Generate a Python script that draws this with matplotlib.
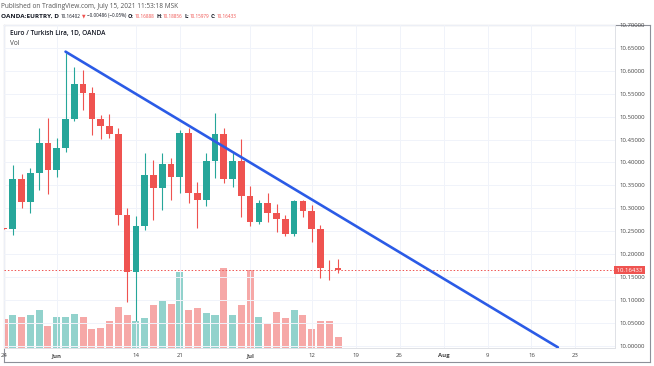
import matplotlib
matplotlib.use("Agg")
import matplotlib.pyplot as plt
import matplotlib.transforms as mtransforms
import pandas as pd

plt.rcParams["font.family"] = ["Open Sans", "DejaVu Sans"]

# daily candles, EUR/TRY (OANDA), 24 May - 15 Jul 2021
start_date = "2021-05-24"
opens = [10.2560, 10.2548, 10.3650, 10.3140, 10.3764, 10.4432, 10.3836, 10.4310, 10.4950, 10.5707,
         10.5510, 10.4943, 10.4797, 10.4616, 10.2854, 10.1616, 10.2614, 10.3727, 10.3437, 10.3967,
         10.3690, 10.4638, 10.3340, 10.3180, 10.4033, 10.4616, 10.3640, 10.4033, 10.3275, 10.2694,
         10.3110, 10.2890, 10.2766, 10.2432, 10.3166, 10.2940, 10.2548, 10.1700, 10.16888]
highs = [10.2565, 10.3935, 10.3750, 10.3873, 10.4747, 10.4965, 10.4528, 10.6400, 10.6092, 10.6020,
         10.5655, 10.5037, 10.5060, 10.4747, 10.3000, 10.2830, 10.4200, 10.4055, 10.4200, 10.4090,
         10.4710, 10.4747, 10.3580, 10.4200, 10.5074, 10.4747, 10.4200, 10.4513, 10.3487, 10.3180,
         10.3330, 10.3087, 10.2847, 10.3180, 10.3180, 10.3070, 10.2636, 10.1870, 10.18856]
lows = [10.2545, 10.2410, 10.3010, 10.2904, 10.3400, 10.3312, 10.3690, 10.4236, 10.4900, 10.5146,
        10.4600, 10.4507, 10.4528, 10.2635, 10.0960, 10.0550, 10.2526, 10.2745, 10.2963, 10.3180,
        10.3330, 10.3110, 10.2560, 10.3050, 10.3655, 10.3550, 10.3470, 10.2800, 10.2620, 10.2657,
        10.2694, 10.2490, 10.2395, 10.2400, 10.2800, 10.2270, 10.1470, 10.1430, 10.15979]
closes = [10.2548, 10.3650, 10.3140, 10.3764, 10.4432, 10.3836, 10.4310, 10.4950, 10.5707, 10.5510,
          10.4943, 10.4797, 10.4616, 10.2854, 10.1616, 10.2614, 10.3727, 10.3437, 10.3967, 10.3690,
          10.4638, 10.3340, 10.3180, 10.4033, 10.4616, 10.3640, 10.4033, 10.3275, 10.2694, 10.3110,
          10.2890, 10.2766, 10.2432, 10.3166, 10.2940, 10.2548, 10.1690, 10.16919, 10.16433]
volumes = [87, 100, 93, 98, 113, 65, 94, 93, 102, 94,
           58, 61, 82, 122, 99, 82, 90, 130, 141, 132,
           227, 115, 120, 105, 99, 240, 99, 130, 234, 94,
           73, 108, 91, 113, 100, 58, 82, 80, 34]

# trend line: from the 2 Jun high down to late August
trend_dates = ["2021-06-02", "2021-08-19"]
trend_prices = [10.642, 9.9965]

price_ticks = [10.00, 10.05, 10.10, 10.15, 10.20, 10.25, 10.30, 10.35,
               10.40, 10.45, 10.50, 10.55, 10.60, 10.65, 10.70]
date_ticks = ["2021-05-24", "2021-06-01", "2021-06-14", "2021-06-21", "2021-07-01", "2021-07-12",
              "2021-07-19", "2021-07-26", "2021-08-02", "2021-08-09", "2021-08-16", "2021-08-23"]
date_labels = ["24", "Jun", "14", "21", "Jul", "12", "19", "26", "Aug", "9", "16", "23"]

UP = "#26a69a"
DOWN = "#ef5350"

# bar index for each trading day (weekdays), as TradingView spaces them
days = pd.bdate_range(start_date, "2021-09-30")
day_index = {d.strftime("%Y-%m-%d"): i for i, d in enumerate(days)}


def day_pos(date_str):
    key = pd.Timestamp(date_str).strftime("%Y-%m-%d")
    if key in day_index:
        return day_index[key]
    # weekend date: put it just after the last trading day
    prev = days[days <= pd.Timestamp(date_str)][-1]
    return day_index[prev.strftime("%Y-%m-%d")] + 0.75


W, H = 654, 366


def px_box(x0, y0, x1, y1):
    return [x0 / W, 1 - y1 / H, (x1 - x0) / W, (y1 - y0) / H]


fig = plt.figure(figsize=(W / 100, H / 100), dpi=100)

# outer frame of the chart
frame = fig.add_axes(px_box(4, 25, 650, 362))
frame.set_xticks([])
frame.set_yticks([])
for s in frame.spines.values():
    s.set_color("#8d9099")
    s.set_linewidth(0.8)
frame.set_zorder(0)

ax = fig.add_axes(px_box(4, 25, 615, 348))
ax_vol = ax.twinx()
ax_vol.set_zorder(1)
ax.set_zorder(2)
ax.patch.set_visible(False)
ax_vol.patch.set_visible(False)

n = len(closes)
xs = list(range(n))

# volume overlay
vol_colors = [UP if c >= o else DOWN for o, c in zip(opens, closes)]
ax_vol.bar(xs, volumes, width=0.8, color=vol_colors, alpha=0.5, linewidth=0)
ax_vol.set_ylim(0, 969)
ax_vol.set_yticks([])
for s in ax_vol.spines.values():
    s.set_visible(False)

# candles
for i in xs:
    o, h, l, c = opens[i], highs[i], lows[i], closes[i]
    col = UP if c >= o else DOWN
    ax.vlines(i, l, h, color=col, linewidth=0.8, zorder=3)
    body = max(abs(c - o), 0.0015)
    ax.bar(i, body, bottom=min(o, c), width=0.76, color=col, linewidth=0, zorder=4)

# trend line
tx = [day_pos(d) for d in trend_dates]
ax.plot(tx, trend_prices, color="#2b5be6", linewidth=1.9, solid_capstyle="round", zorder=6)

# last price line and label
last = closes[-1]
ax.axhline(last, color=DOWN, linewidth=0.7, linestyle=(0, (1.5, 2)), zorder=2)
trans = mtransforms.blended_transform_factory(ax.transAxes, ax.transData)
ax.text(1.0, last, " 10.16433 ", transform=trans, ha="left", va="center", fontsize=4.3,
        color="white", clip_on=False, zorder=10,
        bbox=dict(boxstyle="square,pad=0.25", facecolor=DOWN, edgecolor="none"))

ax.set_xlim(0.06, 69.5)
ax.set_ylim(9.995, 10.7002)

ax.yaxis.tick_right()
ax.set_yticks(price_ticks)
ax.set_yticklabels(["{:.5f}".format(p) for p in price_ticks])
ax.tick_params(axis="y", length=0, pad=3, labelsize=4.3, labelcolor="#444444")

ax.set_xticks([day_pos(d) for d in date_ticks])
ax.set_xticklabels(date_labels)
ax.tick_params(axis="x", length=0, pad=3.5, labelsize=4.3, labelcolor="#444444")
for lab in ax.get_xticklabels():
    if lab.get_text() in ("Jun", "Jul", "Aug"):
        lab.set_fontweight("bold")

ax.grid(True, color="#f0f3fa", linewidth=0.7)
ax.set_axisbelow(True)
for side in ("left", "top"):
    ax.spines[side].set_visible(False)
for side in ("right", "bottom"):
    ax.spines[side].set_color("#dfe1e6")
    ax.spines[side].set_linewidth(0.7)

# header
fig.text(1 / W, 1 - 6 / H, "Published on TradingView.com, July 15, 2021 11:53:18 MSK",
         fontsize=4.7, color="#555555", va="center", ha="left")

# (text, colour, weight, size, gap after in px)
pieces = [("OANDA:EURTRY, D", "#131722", "bold", 4.6, 2.0),
          ("10.16402", "#131722", "normal", 3.3, 1.2),
          ("\u25bc", DOWN, "normal", 3.3, 1.2),
          ("\u22120.00486 (\u22120.05%)", "#131722", "normal", 3.3, 1.8),
          ("O:", "#131722", "bold", 4.0, 0.6),
          ("10.16888", DOWN, "normal", 3.3, 1.8),
          ("H:", "#131722", "bold", 4.0, 0.6),
          ("10.18856", DOWN, "normal", 3.3, 1.8),
          ("L:", "#131722", "bold", 4.0, 0.6),
          ("10.15979", DOWN, "normal", 3.3, 1.8),
          ("C:", "#131722", "bold", 4.0, 0.6),
          ("10.16433", DOWN, "normal", 3.3, 0.0)]
renderer = fig.canvas.get_renderer()
x = 1.0
for txt, col, wt, size, gap in pieces:
    fam = ["DejaVu Sans"] if txt == "\u25bc" else None
    t = fig.text(x / W, 1 - 16 / H, txt, fontsize=size, color=col, fontweight=wt,
                 va="center", ha="left", family=fam)
    x += t.get_window_extent(renderer).width + gap

fig.text(10 / W, 1 - 33 / H, "Euro / Turkish Lira, 1D, OANDA", fontsize=4.7,
         color="#131722", fontweight="semibold", va="center", ha="left")
fig.text(10 / W, 1 - 43.5 / H, "Vol", fontsize=4.7, color="#444444", va="center", ha="left")

fig.savefig("out.png", dpi=100)
